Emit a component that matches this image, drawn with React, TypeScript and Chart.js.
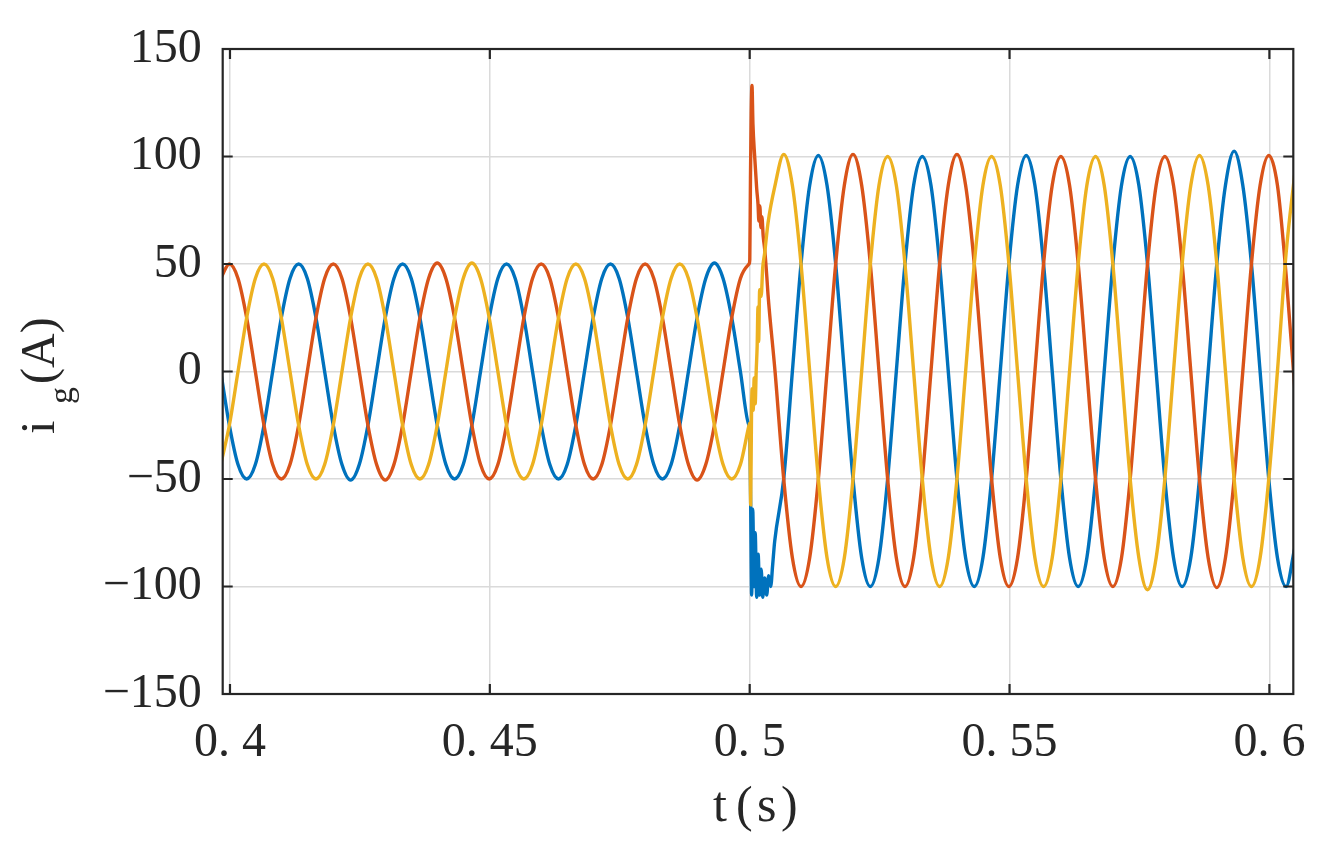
import React, { useEffect, useRef } from 'react';
import { Chart, registerables } from 'chart.js';

Chart.register(...registerables);

// ---------- axis definitions ----------
const X_MIN = 0.3986;
const X_MAX = 0.6046;
const X_TICKS = [0.4, 0.45, 0.5, 0.55, 0.6];
const X_TICK_LABELS = ['0. 4', '0. 45', '0. 5', '0. 55', '0. 6'];
const Y_TICKS = [-150, -100, -50, 0, 50, 100, 150];
const Y_TICK_LABELS = ['\u2212150', '\u2212100', '\u221250', '0', '50', '100', '150'];

// ---------- sampling grid (k = sample index, 12 samples per 50 Hz cycle) ----------
const T_K0 = 0.39988; // time of sample k = 0
const T_STEP = 1 / 600;

// steady state before the step, samples k = -1 .. 60
const PRE_FIRST_K = -1;
const RED_PRE = [
  43.3,
  50, 43.3, 25, 0, -25, -43.3, -50, -43.3, -25, 0, 25, 43.3,
  50, 43.3, 25, 0, -25, -43.3, -50.5, -43.3, -25, 0, 25, 43.3,
  50.5, 43.3, 25, 0, -25, -43.3, -50, -43.3, -25, 0, 25, 43.3,
  50, 43.3, 25, 0, -25, -43.3, -50, -43.3, -25, 0, 25, 43.3,
  50, 43.3, 25, 0, -25, -43.3, -50.5, -43.3, -25, 0, 25, 43.3,
  50,
];
const YELLOW_PRE = [
  -43.3,
  -25, 0, 25, 43.3, 50, 43.3, 25, 0, -25, -43.3, -50, -43.3,
  -25, 0, 25, 43.3, 50, 43.3, 25, 0, -25, -43.3, -50, -43.3,
  -25, 0, 25, 43.3, 50.5, 43.3, 25, 0, -25, -43.3, -50, -43.3,
  -25, 0, 25, 43.3, 50, 43.3, 25, 0, -25, -43.3, -50, -43.3,
  -25, 0, 25, 43.3, 50, 43.3, 25, 0, -25, -43.3, -50, -43.3,
  -25,
];
const BLUE_PRE = [
  0,
  -25, -43.3, -50, -43.3, -25, 0, 25, 43.3, 50, 43.3, 25, 0,
  -25, -43.3, -50.5, -43.3, -25, 0, 25, 43.3, 50, 43.3, 25, 0,
  -25, -43.3, -50, -43.3, -25, 0, 25, 43.3, 50, 43.3, 25, 0,
  -25, -43.3, -50, -43.3, -25, 0, 25, 43.3, 50, 43.3, 25, 0,
  -25, -43.3, -50, -43.3, -25, 0, 25, 43.3, 50.5, 43.3, 25, 0,
  -25,
];

// transient right after the step at t = 0.5 s
const RED_STEP_T = [0.50002, 0.50015, 0.50029, 0.50044, 0.50063, 0.50096, 0.50135, 0.5016, 0.50177, 0.50196, 0.50215, 0.50235, 0.5026, 0.50288, 0.5033, 0.50352];
const RED_STEP_V = [52, 90, 120, 133, 115, 100, 85, 78, 70, 77, 67, 72, 63, 57, 44, 36];
const YELLOW_STEP_T = [0.5, 0.5001, 0.50019, 0.50035, 0.50048, 0.50067, 0.50087, 0.50106, 0.50125, 0.50144, 0.5016, 0.50173, 0.50192, 0.50221, 0.5025, 0.50288, 0.50352];
const YELLOW_STEP_V = [-24, -45, -62, -20, -8, -18, -3, -15, 0, 12, 30, 14, 38, 35, 48, 55, 69];
const BLUE_STEP_T = [0.5, 0.50019, 0.50038, 0.50058, 0.50087, 0.50106, 0.50135, 0.50163, 0.50192, 0.50221, 0.5025, 0.50288, 0.50327, 0.50365, 0.50404, 0.50442, 0.50481];
const BLUE_STEP_V = [-26, -62, -104, -64, -100, -75, -105, -85, -104, -92, -105, -96, -104, -95, -100, -90, -79];

// steady state after the step
const RED_POST_FIRST_K = 63;
const RED_POST = [
  0, -50, -86.6, -100, -86.6, -50, 0, 50, 86.6, 101, 86.6, 50,
  0, -50, -86.6, -100, -86.6, -50, 0, 50, 86.6, 101, 86.6, 50,
  0, -50, -86.6, -100, -86.6, -50, 0, 50, 86.6, 100, 86.6, 50,
  0, -50, -86.6, -100, -86.6, -50, 0, 50, 86.6, 100, 86.6, 50,
  0, -50, -86.6, -100.5, -86.6, -50, 0, 50, 86.6, 100.5, 86.6, 45,
  -8,
];
const YELLOW_POST_FIRST_K = 63;
const YELLOW_POST = [
  86.6, 101, 86.6, 50, 0, -50, -86.6, -100, -86.6, -50, 0, 50,
  86.6, 100, 86.6, 50, 0, -50, -86.6, -100, -86.6, -50, 0, 50,
  86.6, 100, 86.6, 50, 0, -50, -86.6, -100, -86.6, -50, 0, 50,
  86.6, 100, 86.6, 50, 0, -50, -86.6, -101.5, -86.6, -50, 0, 50,
  86.6, 100.5, 86.6, 50, 0, -50, -86.6, -100, -86.6, -50, 0, 55,
  92,
];
const BLUE_POST_FIRST_K = 64;
const BLUE_POST = [
  -50, 0, 50, 86.6, 100.5, 86.6, 50, 0, -50, -86.6, -100, -86.6,
  -50, 0, 50, 86.6, 100, 86.6, 50, 0, -50, -86.6, -100, -86.6,
  -50, 0, 50, 86.6, 100.5, 86.6, 50, 0, -50, -86.6, -100, -86.6,
  -50, 0, 50, 86.6, 100, 86.6, 50, 0, -50, -86.6, -100, -86.6,
  -50, 0, 50, 86.6, 102.5, 86.6, 50, 0, -50, -86.6, -100, -82,
];

// ---------- styles ----------
const BLUE = '#0072BD';
const RED = '#D95319';
const YELLOW = '#EDB120';
const FONT = "'Liberation Serif', 'Times New Roman', serif";
const TEXT_COLOR = '#262626';
const AXIS_COLOR = '#262626';
const GRID_COLOR = '#dadada';

function buildSeries(pre: number[], stepT: number[], stepV: number[], post: number[], postFirstK: number) {
  const pts: { x: number; y: number }[] = [];
  pre.forEach((v, i) => pts.push({ x: T_K0 + (PRE_FIRST_K + i) * T_STEP, y: v }));
  stepT.forEach((t, i) => pts.push({ x: t, y: stepV[i] }));
  post.forEach((v, i) => pts.push({ x: T_K0 + (postFirstK + i) * T_STEP, y: v }));
  return pts;
}

const framePlugin = {
  id: 'framePlugin',
  afterDraw(chart: any) {
    const { ctx, chartArea: a, scales } = chart;
    const xs = scales.x;
    const ys = scales.y;
    ctx.save();
    // axes box
    ctx.strokeStyle = AXIS_COLOR;
    ctx.lineWidth = 2.2;
    ctx.strokeRect(a.left, a.top, a.right - a.left, a.bottom - a.top);
    // inward ticks
    const TL = 10;
    ctx.beginPath();
    X_TICKS.forEach((v) => {
      const p = xs.getPixelForValue(v);
      ctx.moveTo(p, a.bottom);
      ctx.lineTo(p, a.bottom - TL);
      ctx.moveTo(p, a.top);
      ctx.lineTo(p, a.top + TL);
    });
    Y_TICKS.forEach((v) => {
      const p = ys.getPixelForValue(v);
      ctx.moveTo(a.left, p);
      ctx.lineTo(a.left + TL, p);
      ctx.moveTo(a.right, p);
      ctx.lineTo(a.right - TL, p);
    });
    ctx.stroke();

    // x title: t(s)
    ctx.fillStyle = TEXT_COLOR;
    ctx.textBaseline = 'alphabetic';
    ctx.textAlign = 'left';
    ctx.font = `50px ${FONT}`;
    const xBase = 821;
    ctx.fillText('t', 713, xBase);
    ctx.fillText('(', 736, xBase);
    ctx.fillText('s', 757, xBase);
    ctx.fillText(')', 781, xBase);

    // y title: i_g(A), rotated
    ctx.save();
    ctx.translate(53.5, 434);
    ctx.rotate(-Math.PI / 2);
    ctx.font = `48px ${FONT}`;
    ctx.fillText('i', 0, 0);
    ctx.font = `34px ${FONT}`;
    ctx.fillText('g', 30, 18);
    ctx.font = `48px ${FONT}`;
    ctx.fillText('(A)', 50, 0);
    ctx.restore();

    ctx.restore();
  },
};

export default function App() {
  const canvasRef = useRef<HTMLCanvasElement | null>(null);

  useEffect(() => {
    const canvas = canvasRef.current;
    if (!canvas) return;
    const common = {
      pointRadius: 0,
      borderWidth: 3.4,
      fill: false,
      cubicInterpolationMode: 'monotone' as const,
    };
    const chart = new Chart(canvas, {
      type: 'line',
      data: {
        datasets: [
          { ...common, label: 'ic', data: buildSeries(YELLOW_PRE, YELLOW_STEP_T, YELLOW_STEP_V, YELLOW_POST, YELLOW_POST_FIRST_K), borderColor: YELLOW },
          { ...common, label: 'ib', data: buildSeries(RED_PRE, RED_STEP_T, RED_STEP_V, RED_POST, RED_POST_FIRST_K), borderColor: RED },
          { ...common, label: 'ia', data: buildSeries(BLUE_PRE, BLUE_STEP_T, BLUE_STEP_V, BLUE_POST, BLUE_POST_FIRST_K), borderColor: BLUE },
        ],
      },
      options: {
        responsive: false,
        animation: false,
        devicePixelRatio: 1,
        layout: { padding: { left: 0, right: 28.7, top: 49, bottom: 0 } },
        plugins: {
          legend: { display: false },
          tooltip: { enabled: false },
          title: { display: false },
        },
        scales: {
          x: {
            type: 'linear',
            min: X_MIN,
            max: X_MAX,
            afterBuildTicks: (scale: any) => {
              scale.ticks = X_TICKS.map((v) => ({ value: v }));
            },
            afterFit: (scale: any) => {
              scale.height = 846 - 694;
              scale.paddingLeft = 0;
              scale.paddingRight = 0;
            },
            grid: { color: GRID_COLOR, lineWidth: 1.5, drawTicks: false },
            border: { display: false },
            ticks: {
              color: TEXT_COLOR,
              font: { family: FONT, size: 48 },
              padding: 21,
              maxRotation: 0,
              autoSkip: false,
              callback: (value: any) => {
                const i = X_TICKS.findIndex((t) => Math.abs(t - Number(value)) < 1e-9);
                return i >= 0 ? X_TICK_LABELS[i] : '';
              },
            },
          },
          y: {
            type: 'linear',
            min: -150,
            max: 150,
            afterBuildTicks: (scale: any) => {
              scale.ticks = Y_TICKS.map((v) => ({ value: v }));
            },
            afterFit: (scale: any) => {
              scale.width = 222.7;
              scale.paddingTop = 0;
              scale.paddingBottom = 0;
            },
            grid: { color: GRID_COLOR, lineWidth: 1.5, drawTicks: false },
            border: { display: false },
            ticks: {
              color: TEXT_COLOR,
              font: { family: FONT, size: 48 },
              padding: 21,
              autoSkip: false,
              callback: (value: any) => {
                const i = Y_TICKS.findIndex((t) => Math.abs(t - Number(value)) < 1e-9);
                return i >= 0 ? Y_TICK_LABELS[i] : '';
              },
            },
          },
        },
      },
      plugins: [framePlugin],
    });
    return () => chart.destroy();
  }, []);

  return (
    <div style={{ position: 'fixed', left: 0, top: 0, width: 1322, height: 846, background: '#ffffff' }}>
      <canvas ref={canvasRef} width={1322} height={846} />
    </div>
  );
}
